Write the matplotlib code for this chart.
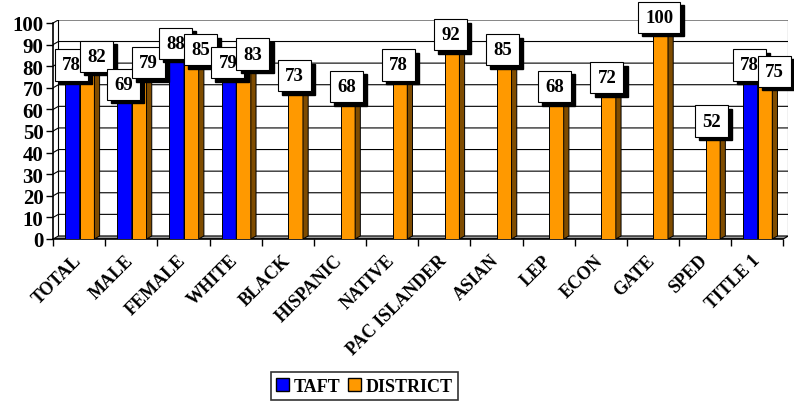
import numpy as np
import matplotlib.pyplot as plt
from matplotlib.patches import Polygon, Rectangle

categories = ['TOTAL', 'MALE', 'FEMALE', 'WHITE', 'BLACK', 'HISPANIC', 'NATIVE',
              'PAC ISLANDER', 'ASIAN', 'LEP', 'ECON', 'GATE', 'SPED', 'TITLE 1']
taft = [78, 69, 88, 79, None, None, None, None, None, None, None, None, None, 78]
district = [82, 79, 85, 83, 73, 68, 78, 92, 85, 68, 72, 100, 52, 75]
yticks = list(range(0, 101, 10))

BLUE = '#0000FF'
BLUE_SIDE = '#000080'
ORANGE = '#FF9900'
ORANGE_SIDE = '#7F4C00'
ORANGE_TOP = '#B36B00'

plt.rcParams['font.family'] = ['Liberation Serif', 'DejaVu Serif']
plt.rcParams['font.weight'] = 'bold'

fig = plt.figure(figsize=(7.94, 4.02), dpi=100)
ax = fig.add_axes([0.067, 0.403, 0.926, 0.545])

n = len(categories)
x = np.arange(n)
w = 0.28
dx, dy = 0.10, 1.4          # depth of the pseudo 3D look
off_t, off_d = -0.13, 0.15

ax.set_xlim(-0.5, n - 0.5 + dx)
ax.set_ylim(0, 100 + dy)

# back wall, side wall and floor
for t in yticks[1:]:
    ax.plot([-0.5, -0.5 + dx, n - 0.5 + dx], [t, t + dy, t + dy], color='black', lw=0.8, zorder=1)
ax.plot([-0.5 + dx] * 2, [dy, 100 + dy], color='black', lw=0.8, zorder=1)
ax.plot([n - 0.5 + dx] * 2, [dy, 100 + dy], color='black', lw=0.8, zorder=1)
ax.add_patch(Polygon([(-0.5, 0), (n - 0.5, 0), (n - 0.5 + dx, dy), (-0.5 + dx, dy)],
                     closed=True, fc='#999999', ec='black', lw=0.8, zorder=1))


def draw_bar(xc, v, face, side, top, z):
    ax.bar(xc, v, w, color=face, edgecolor='black', lw=0.7, zorder=z)
    r = xc + w / 2
    ax.add_patch(Polygon([(r, 0), (r + dx, dy), (r + dx, v + dy), (r, v)],
                         closed=True, fc=side, ec='black', lw=0.7, zorder=z))
    ax.add_patch(Polygon([(xc - w / 2, v), (r, v), (r + dx, v + dy), (xc - w / 2 + dx, v + dy)],
                         closed=True, fc=top, ec='black', lw=0.7, zorder=z))


def draw_label(xc, v, z):
    txt = str(v)
    # drop shadow first, then the white box on top
    ax.annotate(txt, (xc, v), xytext=(3.0, 1.5), textcoords='offset points',
                ha='center', va='center', fontsize=13.5, fontweight='bold', color='black',
                bbox=dict(boxstyle='square,pad=0.38', fc='black', ec='black'), zorder=z)
    ax.annotate(txt, (xc, v), xytext=(0, 4.0), textcoords='offset points',
                ha='center', va='center', fontsize=13.5, fontweight='bold', color='black',
                bbox=dict(boxstyle='square,pad=0.38', fc='white', ec='black', lw=0.8), zorder=z + 0.1)


for i in range(n):
    z = 3 + i * 0.01
    if taft[i] is not None:
        draw_bar(x[i] + off_t, taft[i], BLUE, BLUE_SIDE, BLUE_SIDE, z)
    draw_bar(x[i] + off_d, district[i], ORANGE, ORANGE_SIDE, ORANGE_TOP, z + 0.001)

for i in range(n):
    z = 10 + i * 0.5
    if taft[i] is not None:
        draw_label(x[i] + off_t - 0.02, taft[i], z)
        draw_label(x[i] + off_d + 0.18, district[i], z + 0.2)
    else:
        draw_label(x[i] + off_d - 0.03, district[i], z + 0.2)

# axes
for s in ['top', 'right']:
    ax.spines[s].set_visible(False)
ax.spines['left'].set_bounds(0, 100)
ax.spines['bottom'].set_bounds(-0.5, n - 0.5)
ax.spines['left'].set_linewidth(1.2)
ax.spines['bottom'].set_linewidth(1.2)

ax.set_yticks(yticks)
ax.set_yticklabels([str(t) for t in yticks], fontsize=15, fontweight='bold')
ax.tick_params(axis='y', length=5, width=1, pad=2)

ax.set_xticks(np.arange(-0.5, n, 1.0), minor=True)
ax.tick_params(axis='x', which='minor', length=5, width=1)
ax.set_xticks(x - 0.12)
ax.set_xticklabels(categories, rotation=45, ha='right', rotation_mode='anchor',
                   fontsize=13, fontweight='bold')
ax.tick_params(axis='x', which='major', length=0, pad=9)

# legend
handles = [Rectangle((0, 0), 1, 1, fc=BLUE, ec='black', lw=1),
           Rectangle((0, 0), 1, 1, fc=ORANGE, ec='black', lw=1)]
leg = fig.legend(handles, ['TAFT', 'DISTRICT'], loc='center', bbox_to_anchor=(0.459, 0.037),
                 ncol=2, frameon=True, fancybox=False, edgecolor='black',
                 prop={'size': 13, 'weight': 'bold'}, handlelength=0.7, handleheight=0.7,
                 handletextpad=0.3, columnspacing=0.4, borderpad=0.3)
leg.get_frame().set_linewidth(1.2)

fig.savefig('out.png', dpi=100)
